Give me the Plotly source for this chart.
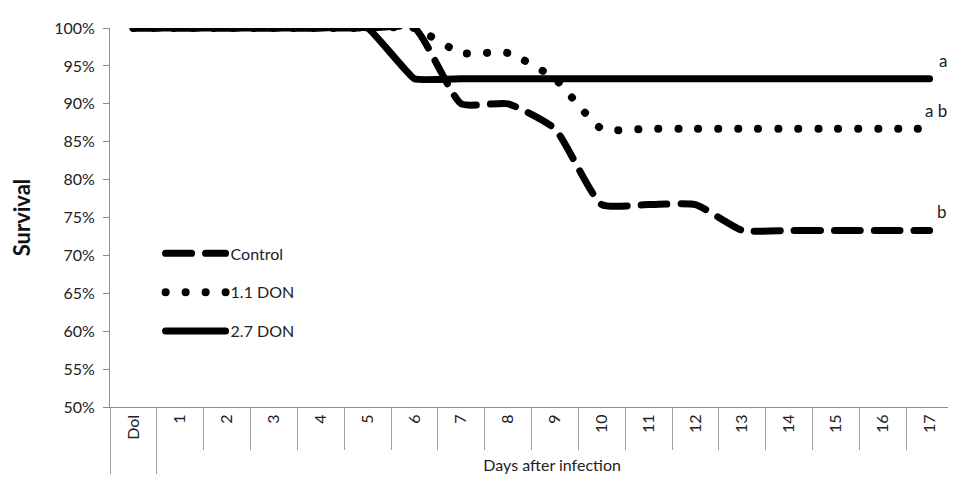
import plotly.graph_objects as go

days_outer = [" "] + ["Days after infection"] * 17
days_inner = ["DoI"] + [str(i) for i in range(1, 18)]

control = [1.0, 1.0, 1.0, 1.0, 1.0, 1.0, 1.0, 0.90, 0.90, 0.867, 0.767, 0.767, 0.767, 0.733, 0.733, 0.733, 0.733, 0.733]
don_1_1 = [1.0, 1.0, 1.0, 1.0, 1.0, 1.0, 1.0, 0.967, 0.967, 0.933, 0.867, 0.867, 0.867, 0.867, 0.867, 0.867, 0.867, 0.867]
don_2_7 = [1.0, 1.0, 1.0, 1.0, 1.0, 1.0, 0.933, 0.933, 0.933, 0.933, 0.933, 0.933, 0.933, 0.933, 0.933, 0.933, 0.933, 0.933]

series_names = ["Control", "1.1 DON", "2.7 DON"]
sig_letters = ["b", "a b", "a"]

FONT = "Lato, 'Open Sans', sans-serif"
x = [days_outer, days_inner]

fig = go.Figure()
fig.add_trace(go.Scatter(x=x, y=control, name=series_names[0], mode="lines",
                         line=dict(color="black", width=7, dash="26px,14px", shape="spline", smoothing=0.5),
                         legendgroup="c", cliponaxis=False))
fig.add_trace(go.Scatter(x=x, y=don_1_1, name=series_names[1], mode="lines",
                         line=dict(color="black", width=8, dash="0.1px,19.9px", shape="spline", smoothing=0.5),
                         legendgroup="d1", cliponaxis=False))
fig.add_trace(go.Scatter(x=x, y=don_2_7, name=series_names[2], mode="lines",
                         line=dict(color="black", width=7, shape="spline", smoothing=0.3),
                         legendgroup="d2", cliponaxis=False))

for vals, letter in zip([control, don_1_1, don_2_7], sig_letters):
    fig.add_annotation(xref="paper", x=1, y=vals[-1], yref="y", text=letter,
                       showarrow=False, xanchor="right", yanchor="bottom",
                       xshift=-4, yshift=6, font=dict(size=17, color="#222", family=FONT))

fig.update_layout(
    width=948, height=479,
    margin=dict(l=102, r=3, t=20, b=80),
    paper_bgcolor="white", plot_bgcolor="white",
    font=dict(family=FONT, color="#222", size=16),
    showlegend=True,
    legend=dict(x=0.06, y=0.45, xanchor="left", yanchor="top",
                bgcolor="rgba(0,0,0,0)", font=dict(size=16, family=FONT),
                tracegroupgap=15, itemwidth=60),
)
fig.update_yaxes(range=[0.5, 1.0], dtick=0.05, tickformat=".0%", showgrid=False,
                 showline=True, linecolor="#8c8c8c", linewidth=1,
                 ticks="outside", ticklen=6, tickcolor="#8c8c8c", ticklabelstandoff=5,
                 tickfont=dict(size=16, family=FONT, color="#222"),
                 title=dict(text="<b>Survival</b>", font=dict(size=22, family=FONT, color="#111"), standoff=18),
                 zeroline=False, automargin=False)
fig.update_xaxes(type="multicategory", range=[-0.5, 17.5], showgrid=False, showline=True, linecolor="#8c8c8c",
                 linewidth=1, ticks="outside", tickson="boundaries", ticklen=42, tickcolor="#a0a0a0",
                 tickangle=-90, tickfont=dict(size=16, family=FONT, color="#222"),
                 showdividers=True, dividercolor="#a0a0a0", dividerwidth=1, mirror=False, automargin=False)

post = """
document.querySelectorAll('.js-line').forEach(function(p){p.style.strokeLinecap='round';p.style.strokeLinejoin='round';});
"""
fig.write_html("out.html", post_script=post)
